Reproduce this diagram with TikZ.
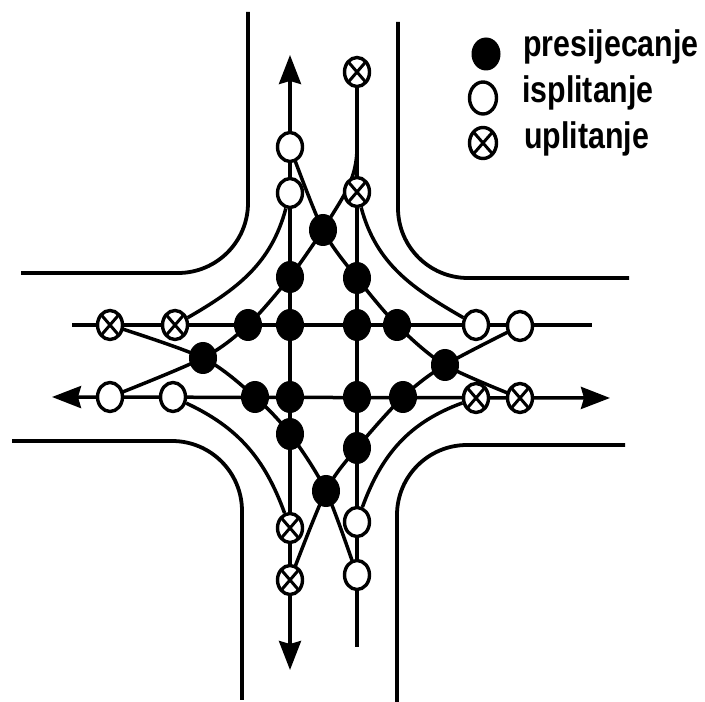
\documentclass[tikz,border=0pt]{standalone}
\usepackage{fontspec}
\setmainfont{Liberation Sans}
\usetikzlibrary{shapes.geometric,arrows.meta,backgrounds}
\begin{document}
\begin{tikzpicture}[x=1pt,y=1pt,
  ln/.style={line width=3.5pt},
  pres/.style={ellipse, draw, fill=black, line width=1pt, minimum width=27pt, minimum height=31pt, inner sep=0pt},
  ispl/.style={ellipse, draw, fill=white, line width=3.4pt, minimum width=25pt, minimum height=29pt, inner sep=0pt},
  upl/.style={ispl, path picture={\draw[line width=3pt] (path picture bounding box.north west) -- (path picture bounding box.south east) (path picture bounding box.north east) -- (path picture bounding box.south west);}},
  arrtip/.tip={Stealth[length=29pt,width=22pt,inset=3pt]},
  kerb/.style={line width=3.8pt, rounded corners=70pt},
  leg/.style={anchor=base west, inner sep=0pt, font=\fontsize{37}{37}\selectfont\bfseries}
]
\useasboundingbox (0,0) rectangle (705,702);

% presijecanje (crossing) points
\node[pres] (b1)  at (323,472) {};
\node[pres] (b2)  at (290,425) {};
\node[pres] (b3)  at (357,424) {};
\node[pres] (b4)  at (248,377) {};
\node[pres] (b5)  at (290,377) {};
\node[pres] (b6)  at (357,377) {};
\node[pres] (b7)  at (397,377) {};
\node[pres] (b8)  at (203,344) {};
\node[pres] (b9)  at (445,337) {};
\node[pres] (b10) at (255,305) {};
\node[pres] (b11) at (290,305) {};
\node[pres] (b12) at (357,305) {};
\node[pres] (b13) at (403,305) {};
\node[pres] (b14) at (290,268) {};
\node[pres] (b15) at (357,254) {};
\node[pres] (b16) at (326,211) {};

% isplitanje (diverging) points
\node[ispl] (o1) at (290,555) {};
\node[ispl] (o2) at (290,509) {};
\node[ispl] (o3) at (476,377) {};
\node[ispl] (o4) at (520,376) {};
\node[ispl] (o5) at (110,305) {};
\node[ispl] (o6) at (173,305) {};
\node[ispl] (o7) at (357,180) {};
\node[ispl] (o8) at (357,127) {};

% uplitanje (merging) points
\node[upl] (u1) at (357,630) {};
\node[upl] (u2) at (357,510) {};
\node[upl] (u3) at (110,377) {};
\node[upl] (u4) at (175,377) {};
\node[upl] (u5) at (476,304) {};
\node[upl] (u6) at (520,304) {};
\node[upl] (u7) at (290,174) {};
\node[upl] (u8) at (290,122) {};

% line ends
\coordinate (vlT) at (290,647);
\coordinate (vlB) at (290,32);
\coordinate (vrB) at (357,55);
\coordinate (huL) at (72,377);
\coordinate (huR) at (592,377);
\coordinate (hlL) at (52,305);
\coordinate (hlR) at (610,304);
\coordinate (mg)  at (357,555);

% kerb corners
\coordinate (k1a) at (248,690); \coordinate (k1b) at (248,429); \coordinate (k1c) at (21,429);
\coordinate (k2a) at (398,680); \coordinate (k2b) at (398,424); \coordinate (k2c) at (629,424);
\coordinate (k3a) at (12,261);  \coordinate (k3b) at (242,261); \coordinate (k3c) at (242,2);
\coordinate (k4a) at (625,257); \coordinate (k4b) at (397,257); \coordinate (k4c) at (397,0);

% legend
\node[pres, minimum width=28pt, minimum height=32pt] (lp) at (486,648) {};
\node[ispl, minimum width=27pt, minimum height=32pt] (li) at (483,604) {};
\node[upl, minimum width=27pt, minimum height=31pt] (lu) at (483,559) {};
\node[leg] (tp) at (523,645) {\scalebox{0.82}[1]{presijecanje}};
\node[leg] (ti) at (522,599) {\scalebox{0.82}[1]{isplitanje}};
\node[leg] (tu) at (524,553) {\scalebox{0.82}[1]{uplitanje}};

\begin{pgfonlayer}{background}
  \fill[white] (0,0) rectangle (705,702);
  % kerbs
  \draw[kerb] (k1a) -- (k1b) -- (k1c);
  \draw[kerb] (k2a) -- (k2b) -- (k2c);
  \draw[kerb] (k3a) -- (k3b) -- (k3c);
  \draw[kerb] (k4a) -- (k4b) -- (k4c);
  % through lanes
  \draw[ln, arrtip-arrtip] (vlT) -- (vlB);
  \draw[ln] (u1.center) -- (vrB);
  \draw[ln] (huL) -- (huR);
  \draw[ln, arrtip-arrtip] (hlL) -- (hlR);
  % left turns
  \draw[ln] plot[smooth, tension=0.5] coordinates {(o1.center) (b1.center) (b3.center) (b7.center) (b9.center) (u6.center)};
  \draw[ln] plot[smooth, tension=0.5] coordinates {(o4.center) (b9.center) (b13.center) (b15.center) (b16.center) (u8.center)};
  \draw[ln] plot[smooth, tension=0.5] coordinates {(o8.center) (b16.center) (b14.center) (b10.center) (b8.center) (u3.center)};
  \draw[ln] plot[smooth, tension=0.5] coordinates {(o5.center) (b8.center) (b4.center) (b2.center) (b1.center)} to[out=60,in=-90] (mg);
  % right turns
  \draw[ln] (o2) to[out=-105,in=30] (u4);
  \draw[ln] (u2) to[out=-75,in=150] (o3);
  \draw[ln] (u5) to[out=200,in=70] (o7);
  \draw[ln] (o6) to[out=-25,in=110] (u7);
\end{pgfonlayer}
\end{tikzpicture}
\end{document}
